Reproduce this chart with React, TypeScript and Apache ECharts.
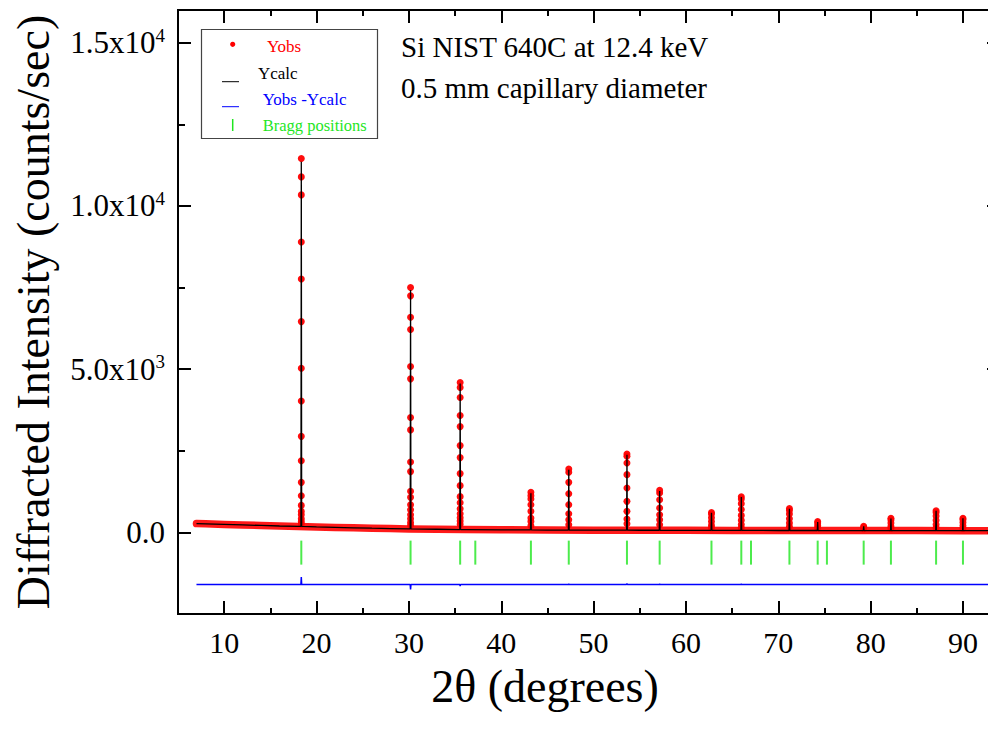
import React, { useEffect, useRef } from "react";
import * as echarts from "echarts";

// ---- data ----
const braggPositions = [18.35, 30.18, 35.55, 37.19, 43.21, 47.31, 53.61, 57.15, 62.76, 65.99, 67.04, 71.2, 74.26, 75.26, 79.24, 82.19, 87.08, 89.99];

const bgTheta = [7, 8, 10, 12, 14, 16, 18, 20, 22, 24, 26, 28, 30, 33, 36, 40, 45, 50, 55, 60, 65, 70, 75, 80, 85, 90, 94];
const bgIntensity = [270, 262, 245, 228, 212, 196, 182, 167, 153, 140, 128, 117, 107, 96, 86, 78, 72, 68, 65, 62, 60, 58, 56, 55, 54, 53, 52];

const peakTheta = [18.35, 30.18, 35.55, 43.21, 47.31, 53.61, 57.15, 62.76, 65.99, 71.2, 74.26, 79.24, 82.19, 87.08, 89.99];
const peakBase = [182, 108, 86, 78, 73, 68, 65, 63, 61, 58, 57, 55, 54, 54, 53];
const peakObs = [
  [11449, 10888, 10337, 8896, 7762, 6456, 5025, 4026, 2941, 2196, 1532, 1124, 827, 643, 540, 420, 330, 260],
  [7500, 7244, 6590, 6213, 5079, 4702, 3516, 3139, 2158, 1861, 1257, 1073, 849, 695, 540, 420, 300, 220],
  [4590, 4436, 4130, 3578, 3240, 2658, 2290, 1800, 1432, 1095, 910, 726, 573, 450, 350, 250],
  [1226, 1125, 1024, 849, 644, 441, 337, 205],
  [1943, 1839, 1532, 1186, 849, 573, 389, 236],
  [2403, 2329, 2127, 1768, 1361, 950, 644, 411, 267],
  [1287, 1208, 1002, 748, 542, 389, 236],
  [610, 560, 450, 330, 220, 140],
  [1090, 1020, 880, 700, 520, 370, 240, 140],
  [730, 670, 560, 420, 290, 180],
  [330, 290, 210, 140],
  [190, 150, 110],
  [430, 380, 290, 190, 120],
  [665, 610, 500, 370, 240, 140],
  [435, 390, 300, 200, 120],
];
const peakCalc = [11350, 7420, 4560, 1200, 1920, 2380, 1270, 600, 1080, 720, 320, 185, 425, 660, 430];
const peakDiff = [230, -150, -40, 10, 25, 35, 20, 10, 20, 8, 5, 5, 8, -12, 8];
const diffOffset = -1600;
const braggLevel = -620;

const xMajor = [10, 20, 30, 40, 50, 60, 70, 80, 90];
const xMinor = [15, 25, 35, 45, 55, 65, 75, 85];
const yMajor = [0, 5000, 10000, 15000];
const yMinor = [2500, 7500, 12500];
const yLabels: Record<number, string> = {
  0: "0.0",
  5000: "{m|5.0x10}{s|3}",
  10000: "{m|1.0x10}{s|4}",
  15000: "{m|1.5x10}{s|4}",
};

const FONT = "Liberation Serif";
const HALF = 0.04;

function buildCalc() {
  const pts: number[][] = bgTheta.map((t, i) => [t, bgIntensity[i]]);
  peakTheta.forEach((t, i) => {
    pts.push([t - HALF, peakBase[i]], [t, peakCalc[i]], [t + HALF, peakBase[i]]);
  });
  return pts.sort((a, b) => a[0] - b[0]);
}
function buildDiff() {
  const pts: number[][] = bgTheta.map((t) => [t, diffOffset]);
  peakTheta.forEach((t, i) => {
    pts.push([t - HALF, diffOffset], [t, diffOffset + peakDiff[i]], [t + HALF, diffOffset]);
  });
  return pts.sort((a, b) => a[0] - b[0]);
}

export default function App() {
  const ref = useRef<HTMLDivElement>(null);
  useEffect(() => {
    if (!ref.current) return;
    const chart = echarts.init(ref.current, null, { renderer: "svg" });
    const axisLine = { show: true, onZero: false, lineStyle: { color: "#000", width: 2 } };
    const baseX = { type: "value", min: 5, max: 94, splitLine: { show: false }, axisLine };
    const baseY = { type: "value", min: -2500, max: 16000, splitLine: { show: false }, axisLine };
    const tickStyle = { color: "#000", width: 2 };
    const obsPeakData: number[][] = [];
    peakTheta.forEach((t, i) => peakObs[i].forEach((v) => obsPeakData.push([t, v])));

    chart.setOption({
      animation: false,
      grid: { left: 178, top: 10, width: 822, bottom: 116, containLabel: false, outerBoundsMode: "none" },
      xAxis: [
        {
          ...baseX,
          position: "bottom",
          axisTick: { inside: true, length: 13, customValues: xMajor, lineStyle: tickStyle },
          axisLabel: { customValues: xMajor, margin: 13, color: "#000", fontFamily: FONT, fontSize: 30 },
        },
        {
          ...baseX,
          position: "bottom",
          axisTick: { inside: true, length: 6, customValues: xMinor, lineStyle: tickStyle },
          axisLabel: { show: false },
        },
        {
          ...baseX,
          position: "top",
          axisTick: { inside: true, length: 13, customValues: xMajor, lineStyle: tickStyle },
          axisLabel: { show: false },
        },
        {
          ...baseX,
          position: "top",
          axisTick: { inside: true, length: 6, customValues: xMinor, lineStyle: tickStyle },
          axisLabel: { show: false },
        },
      ],
      yAxis: [
        {
          ...baseY,
          position: "left",
          axisTick: { inside: true, length: 13, customValues: yMajor, lineStyle: tickStyle },
          axisLabel: {
            customValues: yMajor,
            margin: 13,
            color: "#000",
            formatter: (v: number) => yLabels[v] ?? "",
            fontFamily: FONT,
            fontSize: 31,
            rich: {
              m: { fontFamily: FONT, fontSize: 31, color: "#000", lineHeight: 34 },
              s: { fontFamily: FONT, fontSize: 19, color: "#000", verticalAlign: "top", lineHeight: 19 },
            },
          },
          name: "Diffracted Intensity (counts/sec)",
          nameLocation: "middle",
          nameRotate: 90,
          nameGap: 122,
          nameTextStyle: { color: "#000", fontFamily: FONT, fontSize: 46 },
        },
        {
          ...baseY,
          position: "left",
          axisTick: { inside: true, length: 7, customValues: yMinor, lineStyle: tickStyle },
          axisLabel: { show: false },
        },
        {
          ...baseY,
          position: "right",
          axisTick: { inside: true, length: 13, customValues: yMajor, lineStyle: tickStyle },
          axisLabel: { show: false },
        },
        {
          ...baseY,
          position: "right",
          axisTick: { inside: true, length: 7, customValues: yMinor, lineStyle: tickStyle },
          axisLabel: { show: false },
        },
      ],
      series: [
        {
          name: "Yobs",
          type: "line",
          data: bgTheta.map((t, i) => [t, bgIntensity[i]]),
          showSymbol: false,
          lineStyle: { color: "#ff0000", width: 7.5, cap: "round", join: "round", opacity: 0.9 },
          z: 1,
        },
        {
          name: "Yobs",
          type: "scatter",
          data: obsPeakData,
          symbol: "circle",
          symbolSize: 7,
          itemStyle: { color: "#ff0000", opacity: 0.95 },
          z: 2,
        },
        {
          name: "Ycalc",
          type: "line",
          data: buildCalc(),
          showSymbol: false,
          lineStyle: { color: "#000", width: 1.3 },
          z: 3,
        },
        {
          name: "Yobs -Ycalc",
          type: "line",
          data: buildDiff(),
          showSymbol: false,
          lineStyle: { color: "#0000ff", width: 1.5 },
          z: 3,
        },
        {
          name: "Bragg positions",
          type: "scatter",
          data: braggPositions.map((t) => [t, braggLevel]),
          symbol: "rect",
          symbolSize: [2, 24],
          itemStyle: { color: "#1fe61f" },
          z: 3,
        },
      ],
      graphic: [
        { type: "rect", shape: { x: 201.5, y: 29.5, width: 176, height: 109 }, style: { fill: "#fff", stroke: "#444", lineWidth: 1.2 }, z: 10 },
        { type: "circle", shape: { cx: 232.7, cy: 44.3, r: 2.6 }, style: { fill: "#ff0000" }, z: 11 },
        { type: "text", x: 267, y: 46.7, style: { text: "Yobs", fill: "#ff0000", fontFamily: FONT, fontSize: 17, verticalAlign: "middle" }, z: 11 },
        { type: "line", shape: { x1: 222, y1: 81.7, x2: 239, y2: 81.7 }, style: { stroke: "#000", lineWidth: 1 }, z: 11 },
        { type: "text", x: 258, y: 73.3, style: { text: "Ycalc", fill: "#000", fontFamily: FONT, fontSize: 17, verticalAlign: "middle" }, z: 11 },
        { type: "line", shape: { x1: 222, y1: 106.7, x2: 239, y2: 106.7 }, style: { stroke: "#0000ff", lineWidth: 1 }, z: 11 },
        { type: "text", x: 262.7, y: 99, style: { text: "Yobs -Ycalc", fill: "#0000ff", fontFamily: FONT, fontSize: 17, verticalAlign: "middle" }, z: 11 },
        { type: "line", shape: { x1: 232.7, y1: 119, x2: 232.7, y2: 131 }, style: { stroke: "#1fe61f", lineWidth: 1.5 }, z: 11 },
        { type: "text", x: 262.7, y: 125, style: { text: "Bragg positions", fill: "#1fe61f", fontFamily: FONT, fontSize: 16.5, verticalAlign: "middle" }, z: 11 },
        { type: "text", x: 401, y: 47, style: { text: "Si NIST 640C at 12.4 keV", fill: "#000", fontFamily: FONT, fontSize: 29, verticalAlign: "middle" }, z: 11 },
        { type: "text", x: 401, y: 88, style: { text: "0.5 mm capillary diameter", fill: "#000", fontFamily: FONT, fontSize: 29, verticalAlign: "middle" }, z: 11 },
        { type: "text", x: 545, y: 686, style: { text: "2θ (degrees)", fill: "#000", fontFamily: FONT, fontSize: 46, align: "center", verticalAlign: "middle" }, z: 11 },
      ],
    });
    return () => chart.dispose();
  }, []);
  return (
    <div
      ref={ref}
      style={{ position: "fixed", left: 0, top: 0, width: 988, height: 730, background: "#fff" }}
    />
  );
}
